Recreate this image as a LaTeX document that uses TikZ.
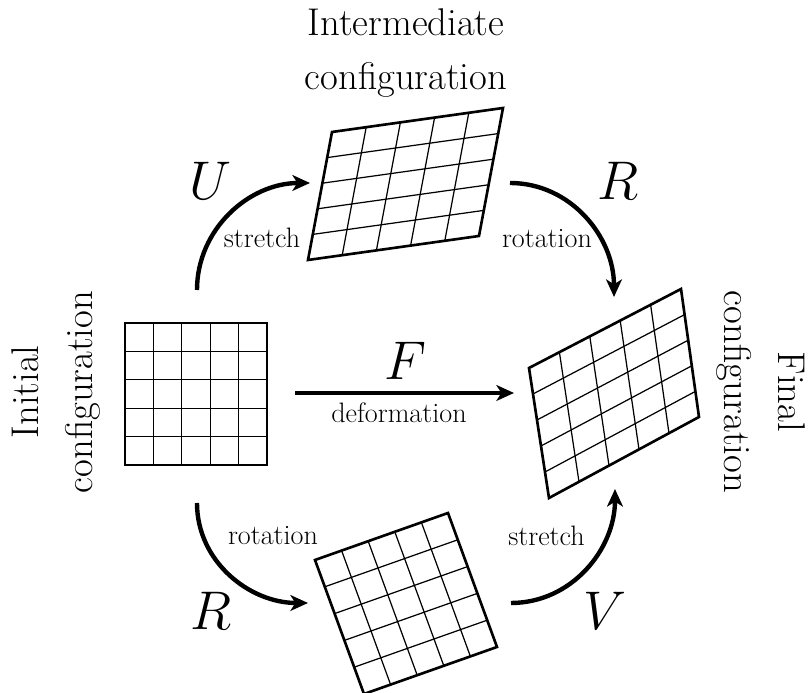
\documentclass[tikz,border=0pt]{standalone}
\usetikzlibrary{calc,arrows.meta}

\tikzset{
  gridline/.style={line width=0.7pt},
  gridframe/.style={line width=1.5pt, line join=miter},
  mapping/.style={line width=2.5pt, -{Stealth[length=10pt,width=9pt,inset=2.8pt]}},
  bigtitle/.style={font=\fontsize{22}{30.5}\selectfont, align=center, inner sep=0pt},
  smalllabel/.style={font=\fontsize{16}{19}\selectfont, anchor=base, inner sep=0pt},
  maplabel/.style={font=\fontsize{24.88}{30}\selectfont, scale=1.246, anchor=base, inner sep=0pt},
}

% 5x5 cells between the corners (#1-tl), (#1-tr), (#1-br), (#1-bl)
\newcommand{\cellgrid}[1]{%
  \foreach \k in {1,...,4}{
    \draw[gridline] ($(#1-tl)!\k/5!(#1-tr)$) -- ($(#1-bl)!\k/5!(#1-br)$);
    \draw[gridline] ($(#1-tl)!\k/5!(#1-bl)$) -- ($(#1-tr)!\k/5!(#1-br)$);
  }
  \draw[gridframe] (#1-tl) -- (#1-tr) -- (#1-br) -- (#1-bl) -- cycle;
}

\begin{document}
\begin{tikzpicture}
\useasboundingbox (0,0) rectangle (16.18,13.86);
% Initial
\coordinate (ini-tl) at (2.50,7.40);
\coordinate (ini-tr) at (5.34,7.40);
\coordinate (ini-br) at (5.34,4.56);
\coordinate (ini-bl) at (2.50,4.56);
\cellgrid{ini}
\node[bigtitle, rotate=90] (initial) at (1.12,6.02) {Initial\\configuration};
% Intermediate
\coordinate (mid-tl) at (6.64,11.22);
\coordinate (mid-tr) at (10.06,11.70);
\coordinate (mid-br) at (9.58,9.14);
\coordinate (mid-bl) at (6.16,8.66);
\cellgrid{mid}
\node[bigtitle] (intermediate) at (8.12,12.80) {Intermediate\\configuration};
% Rotated only
\coordinate (rot-tl) at (6.30,2.66);
\coordinate (rot-tr) at (8.96,3.60);
\coordinate (rot-br) at (9.94,0.92);
\coordinate (rot-bl) at (7.28,-0.02);
\cellgrid{rot}
% Final
\coordinate (fin-tl) at (10.58,6.50);
\coordinate (fin-tr) at (13.62,8.08);
\coordinate (fin-br) at (13.98,5.52);
\coordinate (fin-bl) at (10.98,3.90);
\cellgrid{fin}
\node[bigtitle, rotate=-90] (final) at (15.22,6.02) {Final\\configuration};
% Arrow ends
\coordinate (u-from) at (3.94,8.06);   \coordinate (u-to) at (6.20,10.20);
\coordinate (r1-from) at (10.20,10.20); \coordinate (r1-to) at (12.28,7.92);
\coordinate (f-from) at (5.90,6.00);   \coordinate (f-to) at (10.28,6.00);
\coordinate (r2-from) at (3.94,3.80);  \coordinate (r2-to) at (6.16,1.80);
\coordinate (v-from) at (10.22,1.80);  \coordinate (v-to) at (12.30,4.08);
% Arrows
\draw[mapping] (u-from) to[out=90, in=180] (u-to);
\draw[mapping] (r1-from) to[out=0, in=90] (r1-to);
\draw[mapping] (f-from) -- (f-to);
\draw[mapping] (r2-from) to[out=-90, in=180] (r2-to);
\draw[mapping] (v-from) to[out=0, in=-90] (v-to);
% Labels
\node[maplabel] (U) at (4.20,9.86) {$U$};
\node[maplabel] (R1) at (12.36,9.86) {$R$};
\node[maplabel] (F) at (8.10,6.26) {$F$};
\node[maplabel] (R2) at (4.22,1.26) {$R$};
\node[maplabel] (V) at (12.10,1.26) {$V$};
\node[smalllabel] (stretch1) at (5.24,8.90) {stretch};
\node[smalllabel] (rotation1) at (10.94,8.90) {rotation};
\node[smalllabel] (deform) at (7.98,5.40) {deformation};
\node[smalllabel] (rotation2) at (5.46,2.96) {rotation};
\node[smalllabel] (stretch2) at (10.93,2.94) {stretch};
\end{tikzpicture}
\end{document}
